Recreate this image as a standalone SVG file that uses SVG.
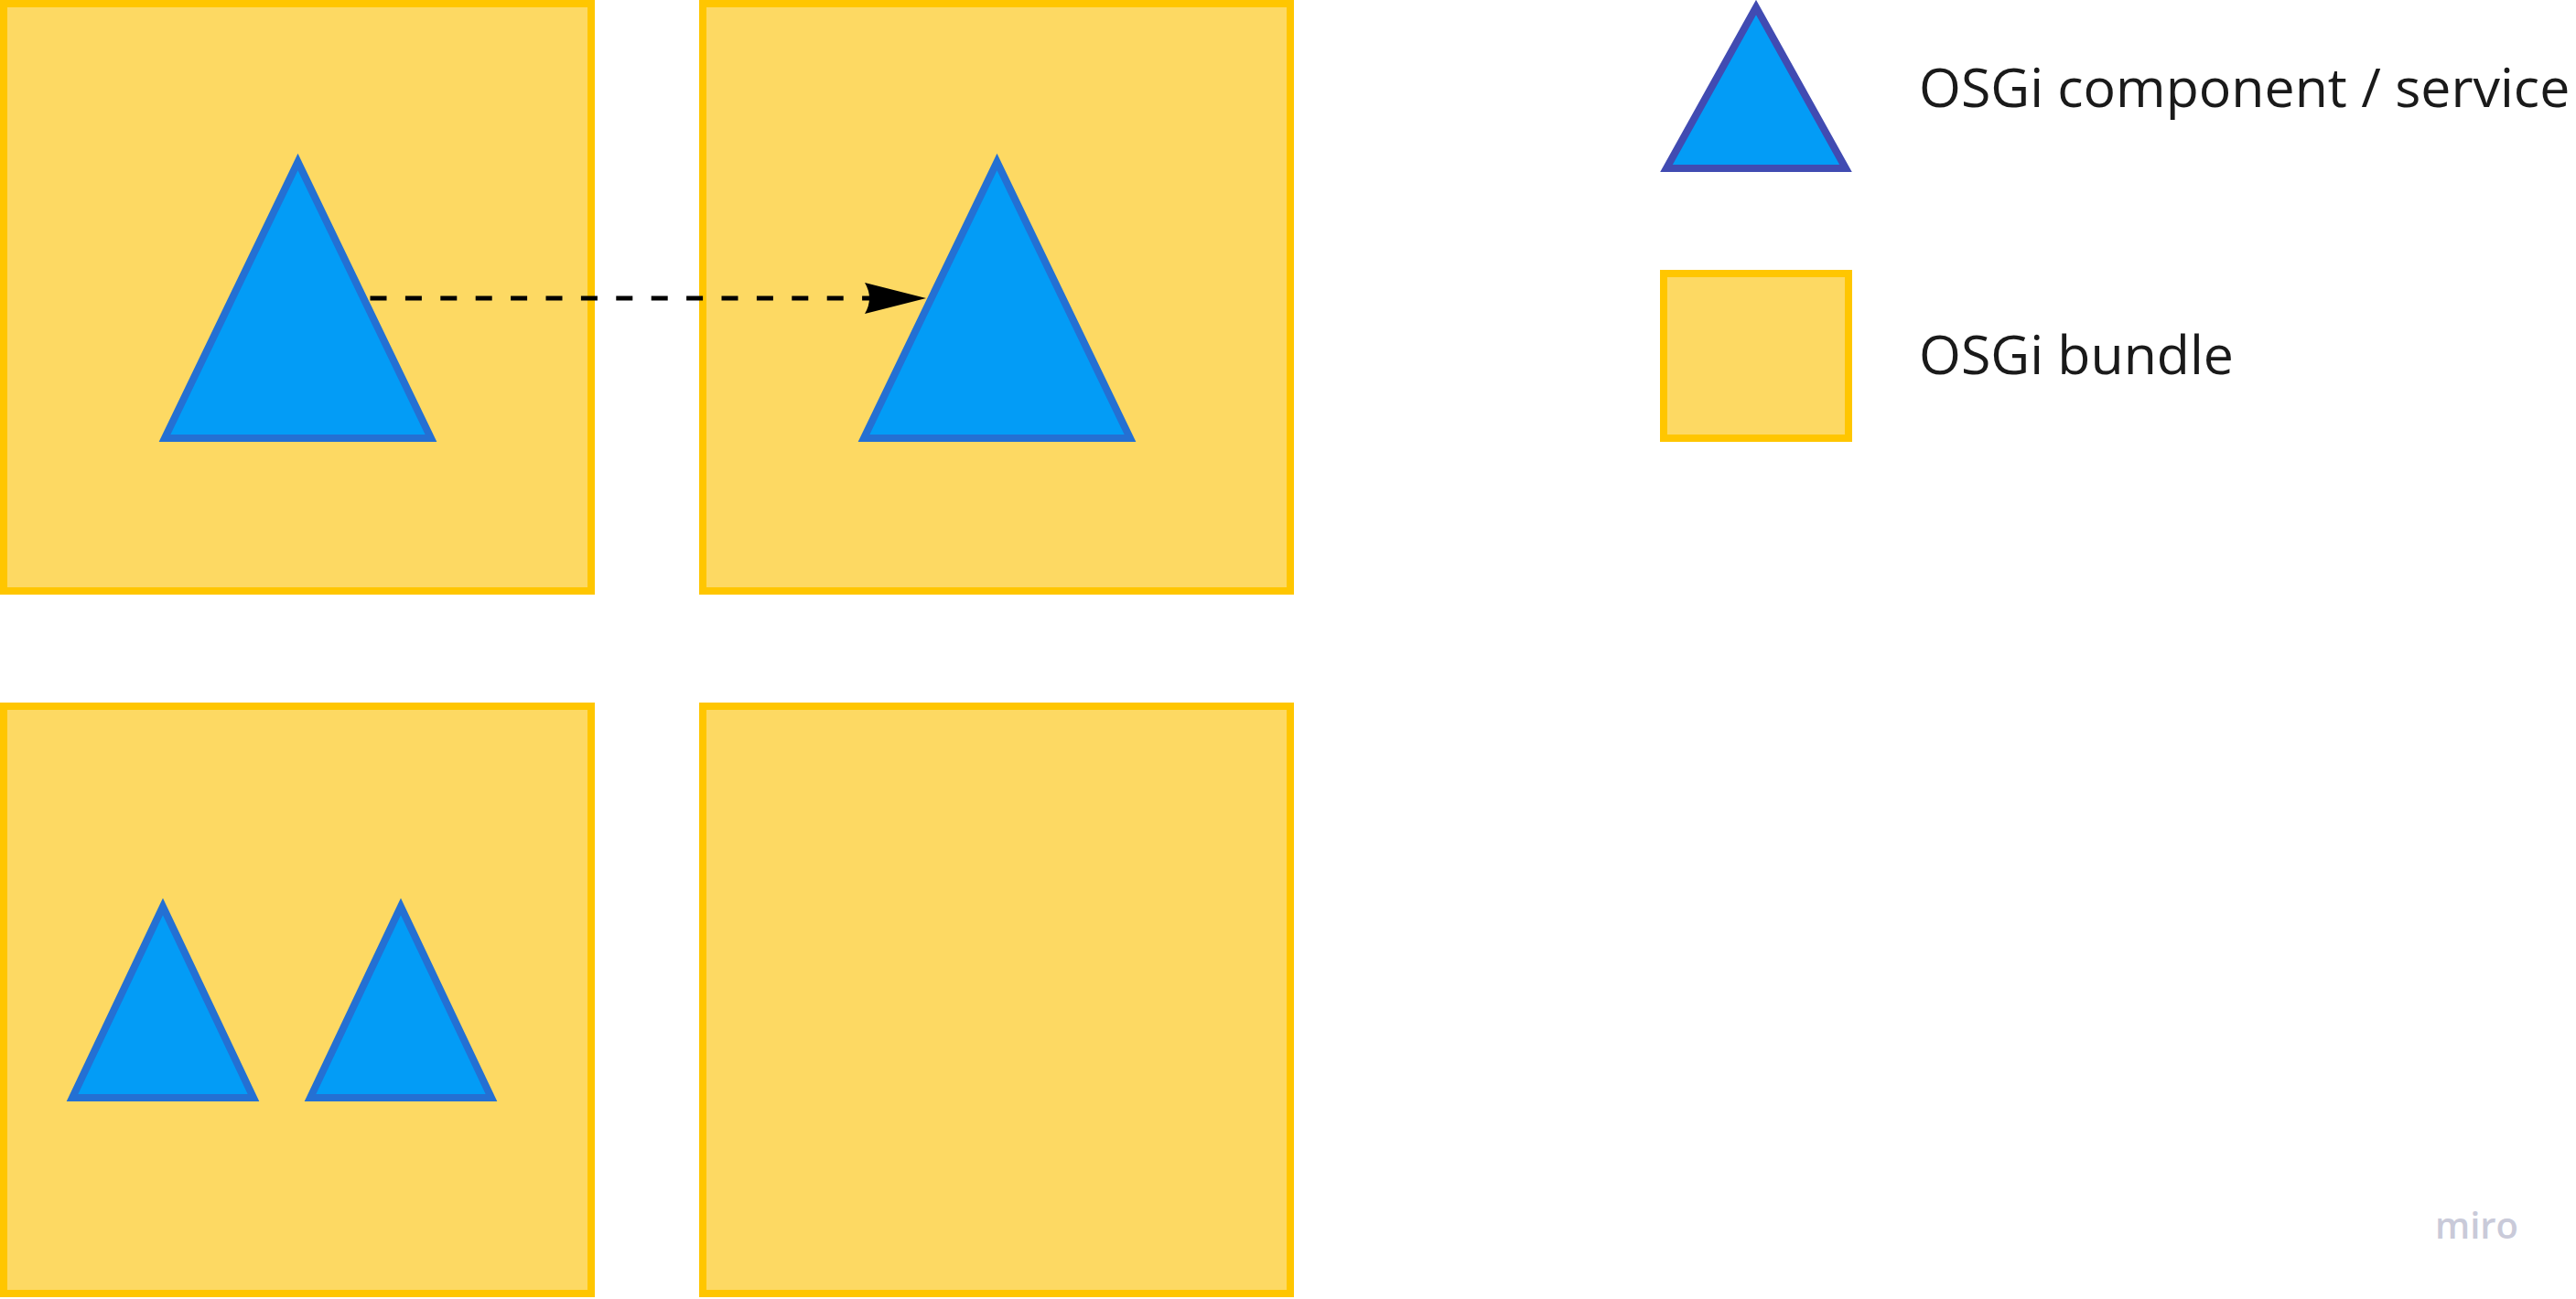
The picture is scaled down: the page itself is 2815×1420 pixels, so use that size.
<svg xmlns="http://www.w3.org/2000/svg" width="2815" height="1420" viewBox="0 0 2815 1420">
  <style>
    .bundle { fill: #fdd963; stroke: #ffc600; stroke-width: 8; }
    .comp { fill: #039cf6; stroke: #2470d3; stroke-width: 8; stroke-linejoin: miter; stroke-miterlimit: 10; }
    .legend-comp { fill: #039cf6; stroke: #414bb2; stroke-width: 8; stroke-miterlimit: 10; }
    .label { font-family: "Open Sans", "Noto Sans", sans-serif; font-size: 59px; fill: #1a1a1a; }
    .wm { font-family: "Open Sans", "Noto Sans", sans-serif; font-size: 40px; font-weight: 600; fill: #c9cad9; }
  </style>
  <defs>
    <marker id="arrow" markerUnits="userSpaceOnUse" markerWidth="70" markerHeight="40" refX="67" refY="17" orient="auto">
      <path d="M0,0 L67,17 L0,34 Q10,17 0,0 Z" fill="#000"/>
    </marker>
  </defs>
  <rect width="2815" height="1420" fill="#ffffff"/>

  <g id="bundle-top-left">
    <rect class="bundle" x="4" y="4" width="642" height="642"/>
    <polygon id="component-a" class="comp" points="325.5,177 180,479 471,479"/>
  </g>
  <g id="bundle-top-right">
    <rect class="bundle" x="768" y="4" width="642" height="642"/>
    <polygon id="component-b" class="comp" points="1089.5,177 944,479 1235,479"/>
  </g>
  <g id="bundle-bottom-left">
    <rect class="bundle" x="4" y="772" width="642" height="642"/>
    <polygon id="component-c" class="comp" points="178,991 79,1200 277,1200"/>
    <polygon id="component-d" class="comp" points="438,991 339,1200 537,1200"/>
  </g>
  <g id="bundle-bottom-right">
    <rect class="bundle" x="768" y="772" width="642" height="642"/>
  </g>

  <g id="connectors">
    <line x1="404.5" y1="326" x2="1012" y2="326" stroke="#000" stroke-width="5" stroke-dasharray="18 20.4" marker-end="url(#arrow)"/>
  </g>

  <g id="legend-component">
    <polygon class="legend-comp" points="1919,8 1821,184 2017,184"/>
    <text class="label" x="2097" y="117">OSGi component / service</text>
  </g>
  <g id="legend-bundle">
    <rect class="bundle" x="1818" y="299" width="202" height="180"/>
    <text class="label" x="2097" y="409">OSGi bundle</text>
  </g>

  <text class="wm" x="2661" y="1354">miro</text>
</svg>
